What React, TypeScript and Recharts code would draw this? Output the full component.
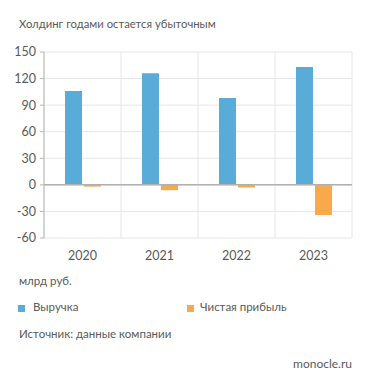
import React from "react";
import { BarChart, Bar, XAxis, YAxis, CartesianGrid, ReferenceLine } from "recharts";

const title = "Холдинг годами остается убыточным";
const years = ["2020", "2021", "2022", "2023"];
const revenue = [106, 126, 98, 133];
const netProfit = [-2, -6, -3, -34];
const yTicks = [-60, -30, 0, 30, 60, 90, 120, 150];
const seriesNames = ["Выручка", "Чистая прибыль"];
const colors = ["#59acd7", "#f8a94a"];
const unitLabel = "млрд руб.";
const sourceLabel = "Источник: данные компании";
const brand = "monocle.ru";

const data = years.map((y, i) => ({ year: y, revenue: revenue[i], profit: netProfit[i] }));

const FONT = "Lato, 'Open Sans', sans-serif";
const TXT = "#5a5a5a";

export default function App() {
  return (
    <div style={{ position: "absolute", left: 0, top: 0, width: 371, height: 385, background: "#fff", fontFamily: FONT, color: TXT }}>
      <div style={{ position: "absolute", left: 19, top: 17, fontSize: 11.3, whiteSpace: "nowrap" }}>{title}</div>
      <div style={{ position: "absolute", left: 0, top: 0 }}>
        <BarChart width={371} height={268} data={data} margin={{ top: 52, right: 19, left: 0, bottom: 0 }} barSize={17} barGap={2}>
          <CartesianGrid
            stroke="#e6e6e6"
            verticalCoordinatesGenerator={({ offset }: any) =>
              years.map((_, i) => offset.left + (offset.width * i) / years.length).concat([offset.left + offset.width])
            }
          />
          <XAxis dataKey="year" axisLine={false} tickLine={false} tick={{ fill: TXT, fontSize: 12.5, fontFamily: FONT }} tickMargin={7} height={30} />
          <YAxis
            domain={[-60, 150]}
            ticks={yTicks}
            interval={0}
            width={44}
            axisLine={{ stroke: "#b5b5b5" }}
            tickLine={{ stroke: "#b5b5b5" }}
            tickSize={4}
            tickMargin={4}
            tick={{ fill: TXT, fontSize: 12.5, fontFamily: FONT }}
          />
          <ReferenceLine y={0} stroke="#b0b0b0" strokeWidth={1.5} />
          <Bar dataKey="revenue" name={seriesNames[0]} fill={colors[0]} isAnimationActive={false} />
          <Bar dataKey="profit" name={seriesNames[1]} fill={colors[1]} isAnimationActive={false} />
        </BarChart>
      </div>
      <div style={{ position: "absolute", left: 19, top: 274, fontSize: 11.5 }}>{unitLabel}</div>
      <div style={{ position: "absolute", left: 18, top: 305, width: 7, height: 7, background: colors[0] }} />
      <div style={{ position: "absolute", left: 33, top: 300, fontSize: 11.5 }}>{seriesNames[0]}</div>
      <div style={{ position: "absolute", left: 187, top: 305, width: 7, height: 7, background: colors[1] }} />
      <div style={{ position: "absolute", left: 200, top: 300, fontSize: 11.5 }}>{seriesNames[1]}</div>
      <div style={{ position: "absolute", left: 19, top: 327, fontSize: 11.5 }}>{sourceLabel}</div>
      <div style={{ position: "absolute", right: 19, top: 356, fontSize: 12 }}>{brand}</div>
    </div>
  );
}
